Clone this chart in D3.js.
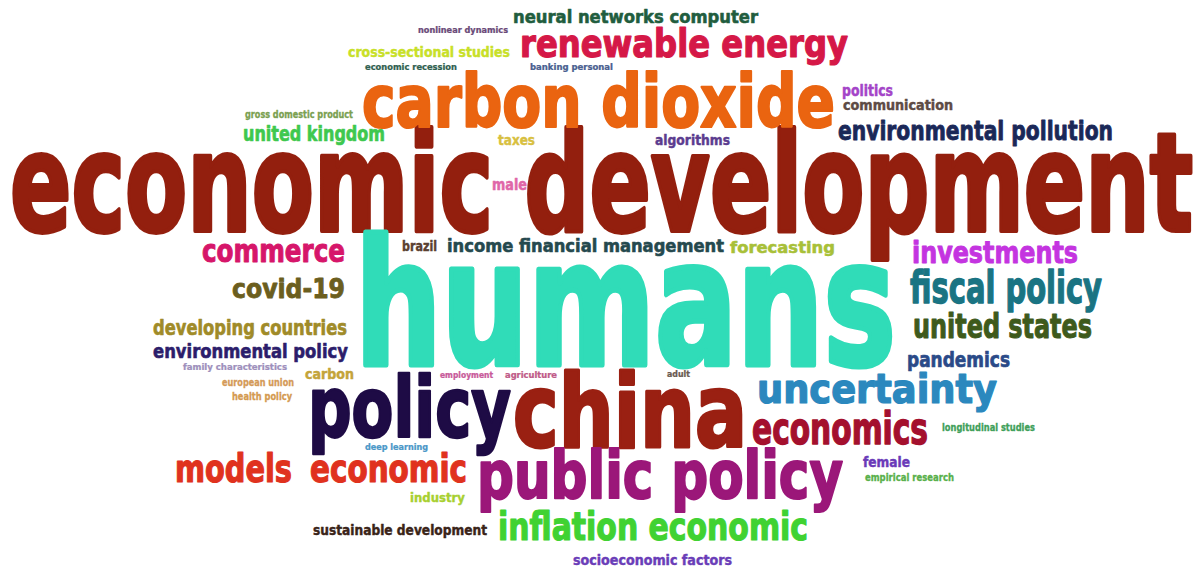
<!DOCTYPE html>
<html>
<head>
<meta charset="utf-8">
<script src="https://cdn.jsdelivr.net/npm/d3@7"></script>
<style>
    body { margin: 0; background: #ffffff; overflow: hidden; }
    .word { font-family: "DejaVu Sans Condensed", "DejaVu Sans", sans-serif; font-weight: bold; }
</style>
</head>
<body>
<script>
(function () {

    //keywords of the cloud
    var words = ["economic development", "humans", "carbon dioxide", "china", "policy", "public policy",
        "renewable energy", "neural networks computer", "economics", "uncertainty", "investments",
        "fiscal policy", "united states", "pandemics", "environmental pollution", "politics",
        "communication", "algorithms", "commerce", "covid-19", "developing countries",
        "environmental policy", "family characteristics", "carbon", "european union", "health policy",
        "employment", "agriculture", "adult", "deep learning", "models", "economic", "industry",
        "sustainable development", "inflation economic", "socioeconomic factors", "female",
        "empirical research", "longitudinal studies", "male", "taxes", "brazil",
        "income financial management", "forecasting", "united kingdom", "gross domestic product",
        "economic recession", "banking personal", "cross-sectional studies", "nonlinear dynamics"];

    //word weight, read as the lowercase letter height in the picture
    var weights = [83, 105, 44, 61, 50, 40,
        24, 11, 27, 25, 18,
        27, 20, 13, 16, 10,
        9, 9, 19, 16, 13,
        12, 5, 9, 6, 6,
        5, 5, 5, 5, 24, 24, 7,
        9, 23, 8, 9,
        6, 6, 10, 8, 9,
        11, 10, 13, 6,
        5, 5, 8, 5];

    //layout of each word: left edge, right edge and baseline
    var lefts = [10, 355, 362, 513, 308, 477,
        520, 513, 752, 757, 912,
        910, 913, 907, 838, 842,
        843, 655, 202, 232, 153,
        153, 183, 305, 222, 232,
        440, 505, 667, 365, 175, 310, 410,
        313, 498, 573, 863,
        865, 942, 492, 498, 402,
        447, 730, 243, 245,
        365, 530, 348, 418];
    var rights = [1193, 896, 835, 747, 511, 843,
        848, 758, 928, 997, 1078,
        1102, 1092, 1010, 1113, 893,
        953, 730, 345, 345, 347,
        348, 287, 354, 294, 292,
        493, 557, 690, 428, 292, 467, 465,
        487, 808, 732, 910,
        954, 1035, 527, 535, 437,
        724, 835, 385, 353,
        457, 613, 510, 508];
    var baselines = [231, 365, 127, 447, 437, 498,
        57, 23, 444, 403, 263,
        303, 338, 367, 140, 96,
        110, 145, 262, 298, 335,
        358, 370, 379, 386, 400,
        378, 378, 377, 450, 482, 482, 502,
        535, 540, 565, 467,
        481, 431, 190, 145, 251,
        252, 253, 141, 118,
        70, 70, 57, 33];

    var colors = ["#931f0e", "#30dcb8", "#ea6410", "#9a2012", "#1e0b45", "#9b1779",
        "#d51847", "#215d3e", "#a4102e", "#2b88be", "#c434e0",
        "#1a7483", "#3e5a1c", "#2a4a88", "#1a2858", "#a444c8",
        "#5d4b45", "#5b3c8f", "#d6166a", "#6b5e1e", "#a08b28",
        "#2c1d6b", "#9e90bc", "#c4a43a", "#d49a58", "#d49a50",
        "#c85a9a", "#c05a88", "#6a5a50", "#4b98c8", "#e0321e", "#e0321e", "#a8d030",
        "#3a2418", "#40d232", "#6a3db8", "#6a3ab8",
        "#58b04a", "#3fa05a", "#e066a8", "#d8c040", "#5a4030",
        "#25494e", "#a8c038", "#3ec84e", "#7aa050",
        "#2f5f50", "#4a6090", "#c8e028", "#6a4a78"];

    window.onload = setCloud();

    function setCloud() {
        var width = 1203,
            height = 572;

        var svg = d3.select("body")
            .append("svg")
            .attr("width", width)
            .attr("height", height);

        //picture coordinates to svg coordinates
        var x = d3.scaleLinear().domain([0, 1203]).range([0, width]);
        var y = d3.scaleLinear().domain([0, 572]).range([0, height]);
        //lowercase height to font size, a bit under the font's own x-height so the ascenders stay short
        var size = d3.scaleLinear().domain([0, 100]).range([0, 166]);

        var data = words.map(function (w, i) {
            return { text: w, weight: weights[i], x0: lefts[i], x1: rights[i], base: baselines[i], color: colors[i] };
        });

        //a stroke of the same colour thickens the glyphs towards the heavy poster face
        svg.selectAll(".word")
            .data(data)
            .enter()
            .append("text")
            .attr("class", "word")
            .attr("x", function (d) { return x(d.x0); })
            .attr("y", function (d) { return y(d.base); })
            .attr("font-size", function (d) { return size(d.weight); })
            .attr("textLength", function (d) { return x(d.x1) - x(d.x0); })
            .attr("lengthAdjust", "spacingAndGlyphs")
            .style("fill", function (d) { return d.color; })
            .style("stroke", function (d) { return d.color; })
            .style("stroke-width", function (d) { return size(d.weight) * 0.03; })
            .style("stroke-linejoin", "round")
            .text(function (d) { return d.text; });
    };

})();
</script>
</body>
</html>
